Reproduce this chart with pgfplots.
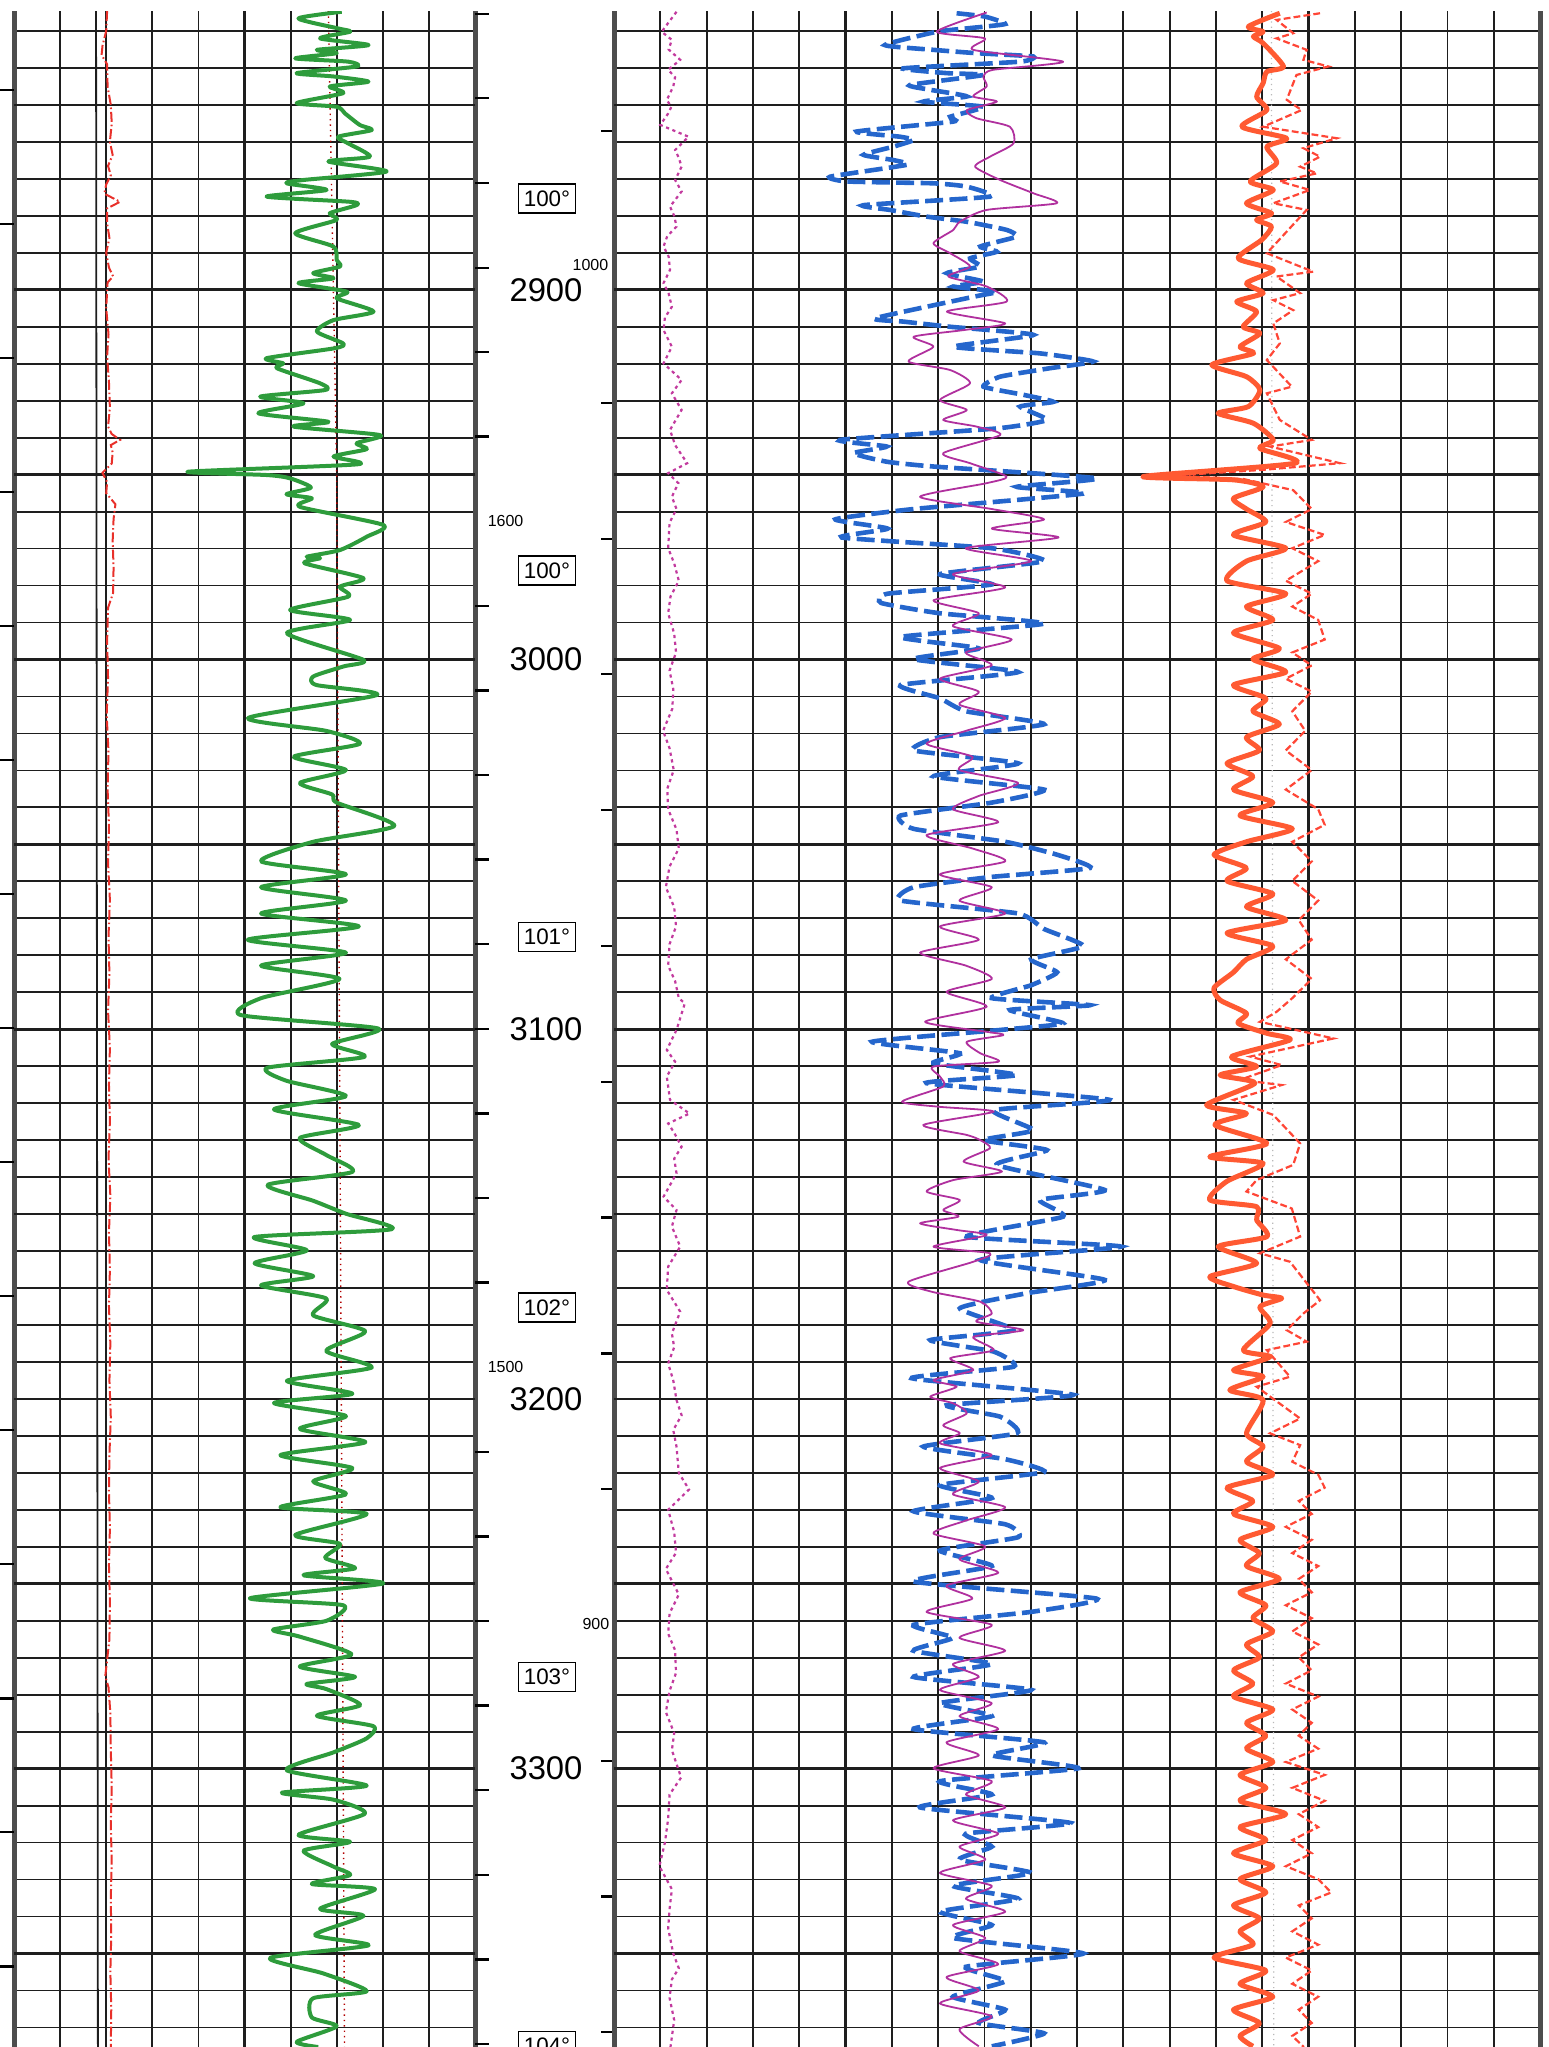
\documentclass[border=0pt]{standalone}
\usepackage{pgfplots}
\pgfplotsset{compat=1.18}
\usepackage{fontspec}
\setmainfont{Liberation Sans}
\definecolor{gridc}{HTML}{1E1E1E}
\definecolor{borderc}{HTML}{4D4D4D}
\definecolor{grn}{HTML}{2E9C3C}
\definecolor{redc}{HTML}{E8302A}
\definecolor{bluec}{HTML}{2566CC}
\definecolor{magc}{HTML}{B0309E}
\definecolor{magd}{HTML}{C23A9E}
\definecolor{orc}{HTML}{FF5A32}
\definecolor{ord}{HTML}{FF4636}
\pgfplotsset{
  track/.style={
    scale only axis, anchor=north west,
    height=509pt, ymin=2824.6, ymax=3375.3, y dir=reverse,
    ytick={2830,2840,...,3370}, extra y ticks={2850,2900,...,3350},
    yticklabels={}, extra y tick labels={}, xticklabels={}, extra x tick labels={},
    major tick length=0pt,
    grid=major,
    major grid style={draw=gridc, line width=0.45pt},
    extra y tick style={major grid style={draw=gridc, line width=0.65pt}},
    extra x tick style={major grid style={draw=gridc, line width=0.6pt}},
    separate axis lines,
    x axis line style={draw=none},
    y axis line style={draw=borderc, line width=1.25pt},
    clip=true,
  },
  tickax/.style={
    scale only axis, anchor=north west, height=509pt,
    ymin=2824.6, ymax=3375.3, y dir=reverse,
    axis x line=none, y axis line style={draw=none},
    yticklabels={}, every tick/.style={black, line width=0.55pt}, clip=false,
  },
}
\tikzset{
  boxlab/.style={draw, line width=0.4pt, font=\fontsize{5.6}{6}\selectfont, minimum width=14.25pt, minimum height=7.25pt, inner sep=0.8pt},
  deplab/.style={font=\fontsize{8.2}{9}\selectfont, inner sep=0pt},
  smalllab/.style={font=\fontsize{4}{4}\selectfont, inner sep=0pt},
}
\begin{document}
\begin{tikzpicture}
\path[use as bounding box] (0,0) rectangle (387.25pt,-511.75pt);

% ---------------- left track ----------------
\begin{axis}[track, at={(3.5pt,-2.75pt)}, width=115.25pt, xmin=0, xmax=10,
  xtick={0,1,...,10}, extra x ticks={5}]
\addplot[gridc, line width=0.45pt] coordinates {(1.78,2824.6) (1.82,3375.3)};
\addplot[red!70!black, densely dotted, line width=0.35pt] coordinates {(6.82,2824.6) (7.0,2950) (7.17,3375.3)};
\addplot[redc, line width=0.5pt, dash pattern=on 2.5pt off 0.7pt on 0.4pt off 0.7pt] coordinates {
(2.02,2824.6) (2.00,2830) (1.92,2834) (1.90,2836.5) (2.02,2839) (2.03,2845) (2.10,2850) (2.12,2855) (2.08,2860) (2.14,2863.5) (2.04,2866.5) (2.10,2869) (2.00,2871.5) (1.96,2874) (2.30,2876.2) (2.02,2878) (2.02,2882) (2.07,2886) (2.00,2890) (2.06,2894) (2.15,2896.4) (2.03,2898) (2.00,2905) (2.05,2912) (2.02,2918) (2.06,2925) (2.08,2932) (2.04,2937) (2.12,2939) (2.30,2940.6) (2.10,2942) (2.14,2944) (2.12,2947) (1.92,2949.5) (2.02,2952) (2.00,2955) (2.20,2958) (2.16,2962) (2.14,2968) (2.16,2975) (2.15,2982) (2.04,2986) (2.02,2995) (2.04,3005) (2.01,3015) (2.05,3025) (2.03,3035) (2.06,3045) (2.04,3055) (2.08,3065) (2.05,3075) (2.07,3085) (2.04,3095) (2.08,3105) (2.06,3115) (2.08,3125) (2.05,3135) (2.09,3145) (2.06,3155) (2.08,3165) (2.06,3175) (2.09,3185) (2.07,3195) (2.10,3205) (2.07,3215) (2.06,3225) (2.08,3235) (2.06,3245) (2.08,3255) (2.07,3265) (1.98,3275) (2.05,3278) (2.09,3285) (2.10,3295) (2.12,3305) (2.10,3315) (2.12,3325) (2.10,3335) (2.11,3345) (2.09,3355) (2.11,3365) (2.10,3375.3)};
\addplot[grn, line width=1pt, line join=round, smooth, tension=0.4] coordinates {
(7.11,2824.8) (6.17,2826.6) (7.03,2829.3) (7.29,2830.2) (6.64,2832.0) (7.69,2833.8) (6.57,2835.1) (7.00,2836.0) (6.10,2837.4) (7.25,2838.3) (7.43,2839.6) (6.13,2841.4) (6.93,2842.3) (7.69,2843.7) (6.85,2845.0) (7.14,2846.8) (6.13,2849.5) (7.00,2850.5) (7.18,2852.3) (7.50,2855.4) (7.76,2856.8) (7.03,2858.6) (7.25,2860.4) (7.72,2864.0) (6.82,2865.3) (8.08,2868.0) (6.28,2870.3) (5.91,2871.2) (6.78,2873.0) (5.48,2874.8) (7.29,2876.2) (7.43,2877.1) (6.85,2879.3) (7.00,2881.1) (6.10,2884.7) (6.93,2888.3) (7.00,2891.9) (7.07,2893.7) (6.49,2895.5) (6.93,2896.9) (6.17,2898.2) (7.22,2900.5) (7.00,2902.3) (7.80,2905.9) (6.93,2908.2) (6.57,2911.3) (7.14,2914.5) (6.96,2915.8) (5.48,2918.5) (5.84,2919.9) (5.70,2921.2) (6.64,2925.3) (6.75,2927.1) (5.34,2928.9) (6.28,2930.7) (5.30,2933.4) (6.82,2935.7) (6.06,2937.0) (7.94,2939.3) (7.43,2941.5) (7.65,2943.1) (6.93,2945.1) (7.45,2947.2) (3.78,2949.2) (5.48,2950.1) (5.99,2951.0) (6.44,2953.5) (5.91,2955.3) (6.46,2956.4) (6.20,2958.7) (8.01,2963.6) (7.65,2966.8) (7.07,2970.4) (6.35,2972.2) (6.64,2972.6) (6.31,2974.0) (7.58,2978.0) (7.07,2980.3) (7.25,2983.0) (5.99,2986.6) (7.29,2989.3) (5.92,2992.9) (7.58,3000.1) (7.14,3001.9) (6.49,3004.6) (6.56,3006.9) (7.87,3009.6)
(5.08,3015.8) (6.77,3019.3) (7.50,3022.8) (6.07,3026.3) (7.20,3029.9) (6.20,3033.4) (6.90,3036.5) (7.00,3038.7) (8.25,3045.0) (6.49,3049.3) (5.36,3054.6) (7.20,3058.1) (5.36,3061.6) (7.20,3065.2) (5.36,3068.7) (7.48,3072.2) (5.07,3075.8) (7.20,3079.3) (5.36,3082.8) (7.06,3086.4) (5.36,3091.6) (4.93,3096.2) (7.90,3099.8) (6.90,3104.0) (7.60,3107.5) (5.50,3110.4) (5.90,3113.9) (7.20,3118.1) (5.64,3121.7) (7.48,3125.9) (6.20,3129.4) (6.77,3134.0) (7.34,3138.6) (5.50,3142.1) (6.49,3146.4) (7.20,3149.9) (8.19,3154.1) (5.22,3156.2) (6.35,3159.8) (5.22,3163.3) (6.49,3166.8) (5.36,3169.3) (6.77,3172.8) (6.49,3177.4) (7.62,3181.7) (6.77,3187.0) (7.76,3191.5) (5.92,3195.1) (7.34,3198.6) (5.64,3201.1) (7.20,3204.6) (6.20,3208.1) (7.62,3211.7) (5.78,3215.2) (7.34,3218.7) (6.49,3222.3) (7.20,3225.8) (5.78,3229.3)
(7.65,3231.1) (6.10,3236.8) (7.07,3239.2) (6.75,3243.0) (7.40,3245.8) (6.28,3247.7) (8.01,3249.9) (5.12,3253.9) (7.14,3255.8) (6.78,3260.0) (5.62,3262.4) (6.20,3264.3) (7.32,3269.1) (6.20,3272.4) (7.40,3275.2) (6.35,3277.1) (6.78,3278.5) (7.51,3282.8) (6.57,3285.7) (7.79,3288.5) (7.65,3291.8) (6.93,3295.6) (5.91,3300.4) (7.65,3304.6) (5.81,3306.5) (6.93,3308.4) (7.61,3312.2) (6.17,3317.9) (7.29,3319.8) (6.28,3322.2) (6.93,3326.5) (7.29,3328.8) (6.46,3331.2) (7.83,3332.6) (6.64,3337.9) (7.58,3339.8) (6.53,3345.0) (7.69,3347.8) (5.55,3351.2) (6.71,3355.4) (7.65,3360.2) (6.49,3362.1) (6.46,3367.3) (7.00,3369.7) (6.13,3373.9) (6.60,3375.3)};
\end{axis}

% left-edge ticks
\begin{axis}[tickax, at={(3.5pt,-2.75pt)}, width=115.25pt, xmin=0, xmax=10,
  axis y line*=left, tick align=outside, major tick length=3.4pt,
  ytick={2846.0,2882.2,2918.5,2954.7,2991.0,3027.2,3063.5,3099.7,3136.0,3172.2,3208.5,3244.7,3281.0,3317.2,3353.5}]
\end{axis}

% ---------------- middle strip ----------------
\begin{axis}[tickax, at={(118.75pt,-2.75pt)}, width=34.75pt, xmin=475, xmax=614,
  axis y line*=left, tick align=inside, major tick length=3.6pt,
  ytick={2825.3,2848.2,2871.1,2894.0,2916.8,2939.7,2985.5,3008.4,3031.2,3054.1,3077.0,3099.9,3122.8,3145.6,3168.5,3214.3,3237.2,3260.0,3282.9,3305.8,3328.7,3351.6,3374.4}]
\node[deplab] at (axis cs:546,2900) {2900};
\node[deplab] at (axis cs:546,3000) {3000};
\node[deplab] at (axis cs:546,3100) {3100};
\node[deplab] at (axis cs:546,3200) {3200};
\node[deplab] at (axis cs:546,3300) {3300};
\node[boxlab] at (axis cs:547,2875.3) {100°};
\node[boxlab] at (axis cs:547,2975.9) {100°};
\node[boxlab] at (axis cs:547,3075.1) {101°};
\node[boxlab] at (axis cs:547,3175.3) {102°};
\node[boxlab] at (axis cs:547,3275.2) {103°};
\node[boxlab] at (axis cs:547,3375.0) {104°};
\node[smalllab, anchor=west] at (axis cs:487,2962.6) {1600};
\node[smalllab, anchor=west] at (axis cs:487,3191.4) {1500};
\node[smalllab, anchor=east] at (axis cs:609,2893.3) {1000};
\node[smalllab, anchor=east] at (axis cs:610,3260.8) {900};
\end{axis}
\begin{axis}[tickax, at={(118.75pt,-2.75pt)}, width=34.75pt, xmin=475, xmax=614,
  axis y line*=right, tick align=inside, major tick length=3.3pt,
  ytick={2857.1,2930.6,2967.3,3004.0,3040.8,3077.5,3114.2,3150.9,3187.7,3224.4,3297.9,3334.6,3371.3}]
\end{axis}

% ---------------- right track ----------------
\begin{axis}[track, at={(153.5pt,-2.75pt)}, width=231.5pt, xmin=0, xmax=20,
  xtick={0,1,...,20}, extra x ticks={5,10,15}]
\addplot[gray!55, densely dotted, line width=0.3pt] coordinates {(14.2,2824.6) (14.25,3375.3)};
% magenta dotted
\addplot[magd, line width=0.55pt, dash pattern=on 0.8pt off 0.9pt] coordinates {
(1.35,2824.8) (1.03,2830.2) (1.25,2832.4) (1.18,2835) (1.43,2837.8) (1.17,2840.5) (1.32,2842.5) (1.28,2845.0) (1.14,2848.7) (1.24,2850.5) (1.17,2852.3) (1.00,2855.4) (1.61,2858.6) (1.32,2862.2) (1.40,2864.3) (1.46,2866.7) (1.32,2870.3) (1.46,2873.4) (1.21,2877.5) (1.30,2880) (1.35,2882.9) (1.15,2885.5) (1.07,2888.3) (1.18,2891) (1.21,2894.6) (1.07,2898.2) (1.18,2901) (1.25,2904.6) (1.10,2907.5) (1.07,2910.9) (1.25,2915.4) (1.07,2919.9) (1.46,2924.4) (1.25,2928.0) (1.46,2932.5) (1.21,2937.9) (1.32,2942) (1.58,2946.9) (1.17,2949.6) (1.39,2952.3) (1.25,2956.0) (1.35,2959.3) (1.20,2963) (1.17,2969.9) (1.30,2974) (1.40,2978.7) (1.22,2983) (1.17,2987.5) (1.30,2993) (1.34,2998.1) (1.20,3003) (1.28,3008) (1.26,3013.3) (1.06,3019.3) (1.20,3024) (1.29,3029.9) (1.15,3035) (1.17,3040.5) (1.35,3046) (1.40,3051.1) (1.20,3056) (1.12,3061.6) (1.30,3067) (1.34,3072.2) (1.20,3077) (1.17,3082.8) (1.32,3087) (1.40,3091.6) (1.53,3093.0) (1.35,3100.2) (1.14,3105.6) (1.32,3108.8) (1.14,3112.8) (1.21,3119.1) (1.63,3122.8) (1.17,3125.5) (1.30,3128) (1.46,3131.8) (1.30,3135) (1.35,3139.0) (1.07,3145.3) (1.35,3148.9) (1.25,3153.4) (1.43,3158.8) (1.17,3164.2) (1.14,3170.5) (1.43,3176.4) (1.25,3182.3) (1.30,3186) (1.17,3190.4) (1.28,3195) (1.35,3200.3) (1.46,3204.4) (1.28,3208.4) (1.35,3212.9) (1.40,3220) (1.62,3224.5) (1.17,3230) (1.30,3236) (1.34,3241.6) (1.12,3246) (1.40,3252.9) (1.20,3258) (1.17,3263.5) (1.32,3268) (1.34,3274.1) (1.20,3279) (1.12,3284.7) (1.30,3290.4) (1.25,3295) (1.45,3302.4) (1.20,3307) (1.17,3313.5) (1.10,3320) (0.98,3326.4) (1.25,3332.6) (1.20,3338) (1.17,3343.2) (1.28,3350) (1.40,3354) (1.25,3357) (1.20,3362) (1.30,3368) (1.22,3375.3)};
% blue dashed
\addplot[bluec, line width=1.15pt, dash pattern=on 4.5pt off 1.6pt, smooth, tension=0.3] coordinates {
(7.40,2825.2) (8.01,2826.1) (8.45,2828.1) (7.62,2829.3) (6.97,2830.2) (5.85,2833.8) (6.90,2835.1) (7.83,2836.0) (9.06,2836.9) (8.77,2838.3) (6.25,2840.1) (7.19,2841.4) (7.98,2841.9) (6.39,2844.6) (6.83,2845.9) (7.62,2847.7) (6.68,2849.1) (7.98,2850.5) (7.26,2853.2) (7.33,2854.5) (5.24,2857.2) (6.18,2858.6) (6.47,2859.5) (6.03,2861.3) (5.39,2863.5) (6.03,2864.9) (6.32,2866.2) (4.67,2869.4) (5.03,2870.7) (6.90,2871.2) (7.62,2872.1) (8.12,2874.8) (5.39,2877.1) (5.96,2878.4) (6.75,2880.2) (7.62,2881.6) (8.48,2883.8) (8.70,2885.6) (7.91,2888.3) (8.27,2889.7) (7.69,2891.5) (7.91,2893.7) (7.19,2895.5) (7.98,2897.8) (7.33,2899.1) (8.27,2900.5) (7.76,2901.9) (5.64,2907.7) (6.25,2908.6) (7.26,2910.0) (9.06,2912.2) (7.33,2915.4) (9.20,2917.2) (10.35,2919.4) (9.42,2921.2) (8.34,2923.5) (7.98,2926.2) (8.84,2928.4) (9.49,2930.3) (8.77,2931.6) (9.35,2935.2) (8.27,2937.5) (4.88,2940.6) (5.89,2942.4) (5.17,2944.2) (5.89,2946.5) (6.90,2947.8) (10.43,2951.0) (8.70,2953.3) (10.14,2955.1)
(6.47,2959.3) (4.78,2962.1) (5.91,2964.6) (4.92,2967.0) (8.16,2969.9) (9.29,2973.4) (7.04,2976.9) (8.16,2979.7) (5.91,2982.2) (5.77,2984.7) (7.04,2987.5) (9.29,2990.3) (6.19,2993.9) (7.88,2997.0) (6.47,2999.9) (8.73,3003.4) (6.19,3006.9) (7.04,3010.5) (7.60,3014.0) (9.29,3017.5) (7.04,3021.0) (6.47,3024.6) (8.73,3028.1) (6.90,3031.6) (9.29,3035.2) (8.16,3038.7) (6.19,3042.2) (6.47,3045.8) (8.45,3049.3) (9.57,3052.8) (10.28,3056.4) (8.16,3058.8) (6.47,3061.6) (6.19,3065.2) (8.73,3068.7) (9.29,3072.9) (10.14,3077.5) (9.01,3081.1) (9.57,3084.6) (9.01,3088.1) (8.16,3091.6)
(10.28,3093.5) (8.55,3094.8) (9.70,3098.4) (8.34,3100.2) (5.57,3103.4) (7.47,3106.5) (6.90,3109.2) (8.70,3112.4) (6.75,3114.6) (10.70,3119.1) (8.20,3121.9) (9.06,3127.3) (7.98,3130.0) (9.35,3132.7) (8.27,3136.7) (10.60,3143.5) (9.20,3146.2) (9.70,3150.7) (7.62,3156.1) (10.95,3158.8) (7.91,3162.4) (10.60,3167.8) (8.92,3171.4) (7.47,3175.5) (8.63,3181.4) (6.83,3184.1) (8.20,3187.2) (8.63,3191.3) (6.43,3194.4) (9.92,3198.9) (7.19,3201.7) (8.34,3204.8) (8.70,3209.3) (6.68,3212.9)
(8.45,3216.3) (9.29,3219.8) (7.04,3223.3) (8.16,3226.8) (6.47,3230.4) (8.45,3233.9) (8.73,3237.4) (7.04,3241.0) (8.16,3245.2) (6.47,3249.4) (10.42,3254.0) (9.01,3257.6) (6.47,3261.1) (7.32,3264.6) (6.47,3268.1) (8.16,3271.7) (6.47,3275.2) (9.01,3278.7) (7.04,3282.3) (8.16,3285.8) (6.47,3289.3) (9.29,3292.9) (8.16,3296.4) (10.03,3299.9) (7.04,3303.4) (8.16,3307.0) (6.61,3310.5) (9.86,3314.7) (7.60,3317.6) (8.16,3321.1) (7.46,3324.6) (9.01,3328.2) (7.32,3331.7) (8.73,3335.2) (7.04,3338.7) (8.16,3342.3) (7.32,3345.8) (10.14,3350.0) (7.60,3353.6) (8.45,3357.5) (7.32,3361.7) (8.45,3365.2) (7.88,3368.8) (9.29,3371.6) (8.16,3375.1)};
% magenta solid
\addplot[magc, line width=0.45pt, line join=round, smooth, tension=0.4] coordinates {
(8.05,2825.0) (6.97,2830.2) (8.01,2832.0) (7.76,2835.1) (9.70,2838.3) (8.19,2840.5) (7.98,2842.3) (8.05,2845.0) (7.76,2847.7) (8.27,2849.1) (7.62,2851.4) (7.83,2853.6) (8.55,2855.9) (8.63,2860.4) (8.12,2864.0) (7.80,2866.7) (8.34,2870.3) (9.06,2873.9) (9.56,2876.6) (8.05,2878.4) (7.47,2881.6) (7.33,2883.8) (6.90,2887.4) (7.26,2890.1) (7.69,2893.7) (7.22,2896.4) (8.05,2899.1) (8.48,2903.2) (7.19,2905.9) (8.45,2909.1) (7.55,2910.9) (6.47,2912.7) (6.90,2915.4) (6.36,2919.4) (7.26,2921.7) (7.69,2925.3) (7.04,2929.8) (7.62,2932.5) (7.11,2935.2) (7.83,2937.0) (8.34,2939.3) (7.11,2944.2) (7.69,2946.9) (8.48,2950.5) (8.05,2952.3) (6.61,2956.0)
(8.16,2959.3) (9.29,2962.1) (8.16,2964.6) (9.60,2967.0) (7.60,2969.9) (9.01,2973.4) (7.32,2976.9) (8.45,2980.5) (6.90,2984.0) (7.88,2987.5) (7.32,2991.0) (8.59,2994.6) (7.60,2998.1) (8.16,3001.6) (7.04,3005.2) (7.88,3008.7) (7.46,3012.2) (8.45,3015.8) (7.60,3019.3) (6.75,3022.8) (7.74,3026.3) (7.46,3029.9) (8.73,3033.4) (7.88,3036.9) (7.32,3040.5) (8.30,3044.0) (6.75,3047.5) (7.74,3051.1) (8.45,3054.6) (7.04,3058.1) (8.16,3061.6) (7.46,3065.2) (8.45,3068.7) (7.04,3072.2) (7.88,3075.8) (6.61,3079.3) (7.60,3082.8) (8.16,3086.4) (7.18,3089.9)
(8.05,3093.9) (6.72,3098.0) (8.05,3100.7) (8.41,3101.6) (7.62,3103.4) (7.91,3106.5) (8.30,3108.8) (6.90,3110.1) (7.04,3112.8) (7.11,3115.5) (6.22,3119.6) (7.04,3121.0) (8.20,3122.3) (6.68,3125.9) (7.62,3128.6) (7.91,3130.0) (8.12,3132.2) (7.55,3135.8) (8.38,3138.5) (7.33,3140.8) (6.75,3143.9) (7.47,3146.2) (7.11,3148.9) (7.44,3150.7) (6.61,3152.5) (7.40,3154.3) (8.05,3155.7) (6.90,3158.8) (8.12,3160.6) (7.76,3162.9) (6.36,3168.3) (6.86,3171.0) (7.91,3173.7) (8.16,3176.9) (7.83,3179.1) (8.84,3181.4) (7.76,3183.2) (8.20,3186.8) (7.26,3189.0) (7.76,3192.2) (6.90,3194.9) (7.40,3196.7) (6.83,3199.4) (7.33,3201.2) (7.62,3203.9) (7.11,3207.1) (7.47,3209.3) (7.04,3212.0)
(8.16,3215.2) (7.04,3218.7) (7.88,3222.3) (7.32,3225.8) (8.45,3229.3) (7.60,3232.9) (6.90,3236.4) (8.02,3239.9) (7.46,3243.4) (8.30,3247.0) (7.18,3250.5) (7.74,3254.0) (6.75,3257.6) (8.16,3261.1) (7.46,3264.6) (8.45,3268.1) (7.32,3271.7) (7.88,3275.2) (7.04,3278.7) (8.16,3282.3) (7.46,3285.8) (8.30,3289.3) (7.18,3292.9) (7.88,3296.4) (6.90,3299.9) (8.16,3303.4) (7.60,3307.0) (8.45,3310.5) (7.32,3314.0) (8.30,3317.6) (7.46,3321.1) (8.02,3324.6) (7.04,3328.2) (8.16,3331.7) (7.60,3335.2) (8.45,3338.7) (7.32,3342.3) (8.02,3345.8) (7.46,3349.4) (8.30,3352.9) (7.18,3356.4) (7.88,3360.0) (7.04,3363.5) (8.16,3367.0) (7.46,3370.5) (7.88,3375.1)};
% orange dotted
\addplot[ord, line width=0.55pt, dash pattern=on 1.7pt off 0.8pt] coordinates {
(15.25,2825.2) (14.31,2827.0) (14.67,2830.6) (14.31,2832.0) (14.96,2835.1) (14.89,2837.8) (15.43,2839.6) (14.74,2841.9) (14.53,2848.6) (14.85,2851.4) (14.02,2855.9) (15.61,2859.0) (14.89,2861.7) (15.25,2864.0) (14.82,2866.7) (15.18,2868.5) (14.38,2870.7) (15.03,2873.0) (14.24,2876.6) (14.96,2878.4) (14.10,2890.1) (15.10,2895.1) (14.31,2896.4) (14.82,2900.9) (14.24,2902.8) (14.67,2905.5) (14.24,2909.1) (14.38,2914.5) (14.10,2919.0) (14.64,2926.2) (14.10,2928.0) (14.38,2935.2) (15.07,2940.6) (14.17,2942.4) (15.68,2946.9) (14.02,2948.7) (12.00,2950.3) (13.60,2951.2) (14.67,2954.2)
(15.07,2959.3) (14.51,2962.8) (15.35,2966.3) (14.65,2969.9) (15.21,2973.4) (14.51,2978.7) (15.07,2982.2) (14.65,2985.7) (15.21,2989.3) (15.35,2994.6) (14.65,2998.1) (15.07,3001.6) (14.51,3005.2) (15.07,3008.7) (14.65,3014.0) (14.93,3019.3) (14.51,3024.6) (15.07,3029.9) (14.51,3035.2) (15.21,3040.5) (15.35,3044.7) (14.65,3049.3) (15.07,3054.6) (14.65,3059.9) (15.21,3065.2) (14.79,3070.5) (15.07,3075.8) (14.51,3081.1) (15.07,3086.4) (14.65,3091.6)
(14.31,3095.3) (13.95,3098.0) (15.54,3102.5) (13.74,3107.4) (14.42,3109.7) (13.52,3113.7) (14.42,3115.1) (13.38,3119.1) (14.24,3123.2) (14.82,3130.9) (14.67,3136.7) (13.88,3140.8) (13.66,3143.9) (14.64,3148.5) (14.82,3156.1) (13.95,3160.6) (14.60,3162.9) (15.25,3173.3) (14.89,3176.9) (14.53,3181.4) (14.96,3184.5) (14.10,3186.8) (14.60,3194.0) (13.88,3196.7) (14.82,3205.3) (14.17,3209.3) (14.82,3212.5)
(14.65,3217.0) (15.21,3220.5) (15.35,3224.0) (14.79,3227.6) (15.07,3231.1) (14.51,3234.6) (15.07,3238.1) (14.65,3241.7) (15.21,3245.2) (14.79,3248.7) (15.07,3252.3) (14.51,3255.8) (15.07,3259.3) (14.65,3262.9) (15.21,3266.4) (14.79,3269.9) (15.07,3273.4) (14.51,3277.0) (15.21,3280.5) (14.65,3284.0) (15.07,3287.6) (14.79,3291.1) (15.21,3294.6) (14.51,3298.2) (15.35,3301.7) (14.65,3305.2) (15.35,3308.7) (14.79,3312.3) (15.21,3315.8) (14.65,3319.3) (15.07,3322.9) (14.51,3326.4) (15.21,3329.9) (15.49,3333.5) (14.79,3337.0) (15.07,3340.5) (14.65,3344.0) (15.21,3347.6) (14.51,3351.1) (15.07,3354.6) (14.65,3358.2) (15.21,3361.7) (14.79,3365.2) (15.07,3368.8) (14.65,3372.3) (14.90,3375.3)};
% orange solid
\addplot[orc, line width=1.25pt, line join=round, smooth, tension=0.4] coordinates {
(14.38,2825.2) (13.70,2828.8) (14.02,2830.2) (13.81,2831.5) (14.02,2833.3) (14.46,2839.6) (14.10,2841.0) (14.02,2844.1) (13.88,2847.8) (14.10,2851.4) (13.56,2855.9) (14.53,2859.0) (14.10,2861.3) (14.31,2865.8) (13.74,2870.7) (14.24,2873.0) (13.66,2876.6) (14.20,2879.3) (13.88,2881.1) (14.20,2882.9) (13.99,2886.5) (13.48,2891.5) (14.24,2894.6) (13.66,2898.2) (14.02,2900.9) (13.45,2903.2) (13.88,2905.9) (13.59,2910.0) (13.95,2911.8) (13.52,2915.4) (13.81,2917.2) (12.91,2920.3) (13.66,2923.5) (13.95,2927.1) (13.70,2931.6) (13.05,2933.4) (13.81,2936.1) (14.24,2940.6) (13.95,2942.9) (14.71,2946.9) (11.43,2950.5) (13.38,2951.4) (14.02,2953.3) (13.38,2956.4)
(13.66,2959.3) (14.08,2962.8) (13.38,2966.3) (14.51,2969.9) (13.66,2973.4) (13.24,2978.7) (14.51,2982.2) (13.66,2985.7) (14.23,2989.3) (13.38,2992.8) (14.37,2997.0) (13.80,2999.9) (14.51,3003.4) (13.38,3006.9) (14.08,3010.5) (13.80,3014.0) (14.37,3017.5) (13.66,3021.0) (13.94,3024.6) (13.24,3028.1) (13.80,3031.6) (13.38,3035.2) (14.23,3038.7) (13.52,3042.2) (14.65,3045.8) (13.66,3049.3) (12.96,3052.8) (13.66,3056.4) (13.24,3059.9) (14.23,3063.4) (13.66,3066.9) (14.51,3070.5) (13.24,3074.0) (14.23,3077.5) (13.66,3081.1) (13.38,3084.6) (12.96,3088.8)
(13.09,3092.1) (13.66,3095.7) (13.48,3098.4) (14.10,3101.1) (14.60,3102.9) (13.34,3107.4) (13.88,3110.1) (13.09,3112.4) (13.84,3114.6) (12.80,3120.5) (13.66,3122.8) (12.98,3125.9) (14.10,3130.9) (12.87,3134.5) (14.02,3136.3) (13.23,3141.2) (12.87,3146.2) (13.88,3148.0) (13.88,3151.6) (14.10,3156.1) (13.05,3158.8) (13.88,3163.3) (12.87,3166.9) (13.38,3169.6) (14.02,3171.9) (14.42,3172.8) (13.95,3175.1) (14.17,3179.6) (13.59,3186.8) (14.17,3188.6) (13.38,3192.2) (14.02,3194.0) (13.30,3197.6) (14.02,3200.3) (13.66,3209.3) (14.02,3212.9)
(13.66,3217.0) (14.23,3220.5) (13.24,3224.0) (13.80,3227.6) (13.38,3231.1) (14.23,3234.6) (13.52,3238.1) (13.94,3241.7) (13.66,3245.2) (14.37,3248.7) (13.52,3252.3) (14.08,3255.8) (13.80,3259.3) (14.23,3262.9) (13.66,3266.4) (13.94,3269.9) (13.38,3273.4) (13.80,3277.0) (13.38,3280.5) (14.23,3284.0) (13.66,3287.6) (14.08,3291.1) (13.66,3294.6) (14.23,3298.2) (13.52,3301.7) (14.08,3305.2) (13.52,3308.7) (14.51,3312.3) (13.52,3315.8) (14.08,3319.3) (13.38,3322.9) (14.23,3326.4) (13.52,3329.9) (14.08,3333.5) (13.38,3337.0) (13.94,3340.5) (13.52,3344.0) (13.80,3347.6) (12.96,3351.1) (14.08,3354.6) (13.52,3358.2) (14.23,3361.7) (13.38,3365.2) (13.94,3368.8) (13.52,3372.3) (13.80,3375.1)};
\end{axis}
\end{tikzpicture}
\end{document}
